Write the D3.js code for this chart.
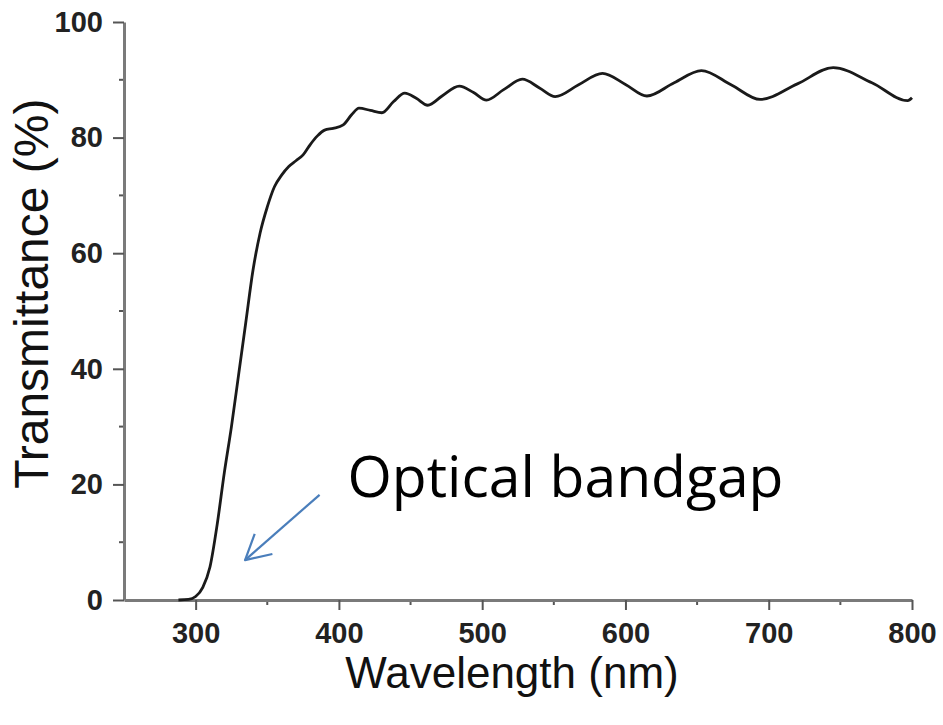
<!DOCTYPE html>
<meta charset="utf-8">
<html>
<head>
  <style>
  body { margin: 0; background: #fff; }
  text.tick-label {
    font-family: "Liberation Sans", Arial, sans-serif;
    font-weight: bold;
    font-size: 29px;
    fill: #222;
  }
  text.axis-title {
    font-family: "Liberation Sans", Arial, sans-serif;
    fill: #111;
  }
  text.note {
    font-family: "Open Sans", "Noto Sans", sans-serif;
    font-size: 57px;
    fill: #000;
  }
  </style>
  <script src="https://cdn.jsdelivr.net/npm/d3@7"></script>
</head>
<body>
  <div id="chart"></div>
  <script type="text/javascript">
  var W = 943, H = 725;
  var margin = { top: 22, right: 31, bottom: 125, left: 124 };
  var width = W - margin.left - margin.right,
      height = H - margin.top - margin.bottom;

  // Spectrum
  var wavelength = [288, 295, 300, 305, 310, 315, 320, 325, 330, 335, 340, 345, 350, 355,
    360, 365, 370, 375, 380, 385, 390, 396, 403, 409, 414, 422, 430, 438, 446, 454,
    462, 472, 484, 494, 503, 515, 528, 540, 551, 567, 584, 600, 615, 634, 653, 674,
    694, 720, 745, 772, 797, 800];
  var transmittance = [0, 0.1, 0.6, 2.2, 5.7, 13, 22, 30, 39, 48, 57, 63.5, 68, 71.5,
    73.5, 75, 76, 77, 78.8, 80.3, 81.3, 81.6, 82.2, 84, 85.1, 84.7, 84.3, 86.2, 87.7, 86.8,
    85.6, 87.2, 88.9, 87.8, 86.5, 88.3, 90.1, 88.6, 87.1, 89.1, 91.1, 89.2, 87.2, 89.5, 91.6, 89.1,
    86.6, 89.3, 92.1, 89.5, 86.4, 86.9];

  // Axes
  var xDomain = [250, 800];
  var yDomain = [0, 100];
  var xTicks = [300, 400, 500, 600, 700, 800];
  var xMinor = [350, 450, 550, 650, 750];
  var yTicks = [0, 20, 40, 60, 80, 100];
  var yMinor = [10, 30, 50, 70, 90];

  // Annotation (data units)
  var noteText = "Optical bandgap";
  var notePos = [406, 17.8];
  var arrowFrom = [386.5, 18.2];
  var arrowTo = [334.5, 6.9];

  var svg = d3.select("#chart").append("svg")
    .attr("width", W)
    .attr("height", H)
    .append("g")
    .attr("transform", "translate(" + margin.left + "," + margin.top + ")");

  var x = d3.scaleLinear().domain(xDomain).range([0, width]);
  var y = d3.scaleLinear().domain(yDomain).range([height, 0]);

  var axisColor = "#7a7a7a";

  // Minor ticks
  svg.selectAll(".xminor").data(xMinor).enter().append("line")
    .attr("x1", function(d) { return x(d); })
    .attr("x2", function(d) { return x(d); })
    .attr("y1", height).attr("y2", height + 5)
    .style("stroke", "#555").style("stroke-width", 2);
  svg.selectAll(".yminor").data(yMinor).enter().append("line")
    .attr("x1", -5).attr("x2", 0)
    .attr("y1", function(d) { return y(d); })
    .attr("y2", function(d) { return y(d); })
    .style("stroke", "#555").style("stroke-width", 2);

  // Major axes
  var xAxis = svg.append("g")
    .attr("transform", "translate(0," + height + ")")
    .call(d3.axisBottom(x).tickValues(xTicks).tickSize(10).tickPadding(10).tickSizeOuter(0));
  var yAxis = svg.append("g")
    .call(d3.axisLeft(y).tickValues(yTicks).tickSize(11).tickPadding(10).tickSizeOuter(0));

  [xAxis, yAxis].forEach(function(a) {
    a.select(".domain").style("stroke", axisColor).style("stroke-width", 3);
    a.selectAll(".tick line").style("stroke", "#555").style("stroke-width", 2);
    a.selectAll(".tick text").attr("class", "tick-label").attr("fill", null);
  });
  xAxis.selectAll(".tick text").attr("dy", "0.71em").attr("y", 22);
  yAxis.selectAll(".tick text").attr("x", -21);

  // Axis titles
  svg.append("text")
    .attr("class", "axis-title")
    .attr("text-anchor", "middle")
    .style("font-size", "44px")
    .attr("x", x(525) - 6)
    .attr("y", height + 88)
    .text("Wavelength (nm)");
  svg.append("text")
    .attr("class", "axis-title")
    .attr("text-anchor", "middle")
    .style("font-size", "48px")
    .attr("transform", "translate(" + (-76) + "," + y(53) + ") rotate(-90)")
    .text("Transmittance (%)");

  // Spectrum line
  var pts = wavelength.map(function(d, i) { return [d, transmittance[i]]; });
  var line = d3.line()
    .x(function(d) { return x(d[0]); })
    .y(function(d) { return y(d[1]); })
    .curve(d3.curveMonotoneX);
  svg.append("path")
    .datum(pts)
    .attr("d", line)
    .style("fill", "none")
    .style("stroke", "#1a1a1a")
    .style("stroke-width", 2.8)
    .style("stroke-linejoin", "round");

  // Arrow
  var ax0 = x(arrowFrom[0]), ay0 = y(arrowFrom[1]);
  var ax1 = x(arrowTo[0]), ay1 = y(arrowTo[1]);
  var ang = Math.atan2(ay0 - ay1, ax0 - ax1);
  var head = 28, spread = 0.5;
  var arrowColor = "#4a7ebb";
  svg.append("line")
    .attr("x1", ax0).attr("y1", ay0).attr("x2", ax1).attr("y2", ay1)
    .style("stroke", arrowColor).style("stroke-width", 2.2);
  svg.append("path")
    .attr("d", "M" + (ax1 + head * Math.cos(ang - spread)) + "," + (ay1 + head * Math.sin(ang - spread)) +
      "L" + ax1 + "," + ay1 +
      "L" + (ax1 + head * Math.cos(ang + spread)) + "," + (ay1 + head * Math.sin(ang + spread)))
    .style("fill", "none")
    .style("stroke", arrowColor).style("stroke-width", 2.2)
    .style("stroke-linejoin", "round");

  svg.append("text")
    .attr("class", "note")
    .attr("x", x(notePos[0]))
    .attr("y", y(notePos[1]))
    .text(noteText);
  </script>
</body>
</html>
